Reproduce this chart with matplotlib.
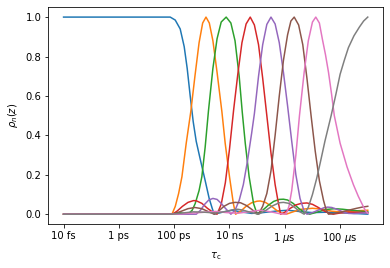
import matplotlib
matplotlib.use("Agg")
import matplotlib.pyplot as plt

# z = log10(tau_c / s)
z_blue = [-14.0, -10.144, -9.963, -9.783, -9.638, -9.53, -9.421, -9.313, -9.204, -9.06, -8.879, -8.735, -8.626, -8.554,
          -8.2, -7.9, -7.6, -7.2, -6.8, -6.3, -5.9, -5.5, -5.0, -4.5, -4.0, -3.5, -3.0]
rho_blue = [1.0, 1.0, 0.985, 0.94, 0.85, 0.74, 0.6, 0.47, 0.37, 0.28, 0.17, 0.08, 0.03, 0.0,
            0.012, 0.02, 0.012, 0.004, 0.008, 0.016, 0.02, 0.014, 0.008, 0.01, 0.008, 0.004, 0.0]

z_orange = [-14.0, -10.08, -9.96, -9.84, -9.72, -9.565, -9.4, -9.25, -9.1, -8.97, -8.85, -8.73, -8.6, -8.45, -8.275,
            -8.156, -8.0, -7.86, -7.78, -7.6, -7.4, -7.2, -7.0, -6.89, -6.7, -6.5, -6.3, -6.1, -5.95, -5.7, -5.4,
            -5.0, -4.6, -4.3, -4.0, -3.6, -3.3, -3.0]
rho_orange = [0, 0, 0.04, 0.105, 0.19, 0.36, 0.52, 0.70, 0.87, 0.97, 1.0, 0.97, 0.88, 0.72, 0.52,
              0.36, 0.19, 0.054, 0.0, 0.015, 0.04, 0.058, 0.066, 0.067, 0.06, 0.042, 0.02, 0.004, 0.0, 0.012, 0.025,
              0.03, 0.025, 0.015, 0.012, 0.015, 0.018, 0.02]

z_green = [-14.0, -10.1, -9.8, -9.5, -9.35, -9.24, -9.1, -9.0, -8.88, -8.76, -8.6, -8.45, -8.3, -8.12, -7.95, -7.8,
           -7.65, -7.54, -7.43, -7.29, -7.13, -7.0, -6.8, -6.6, -6.4, -6.2, -6.05, -5.9, -5.7, -5.5, -5.3, -5.1,
           -4.8, -4.5, -4.2, -3.9, -3.6, -3.3, -3.0]
rho_green = [0, 0, 0.008, 0.0, 0.02, 0.054, 0.12, 0.19, 0.34, 0.525, 0.74, 0.89, 0.975, 1.0, 0.97, 0.88,
             0.70, 0.52, 0.36, 0.19, 0.054, 0.0, 0.02, 0.045, 0.065, 0.075, 0.076, 0.072, 0.055, 0.03, 0.01, 0.0,
             0.012, 0.024, 0.028, 0.025, 0.02, 0.016, 0.012]

z_red = [-14.0, -10.07, -9.9, -9.7, -9.5, -9.3, -9.2, -9.0, -8.8, -8.6, -8.45, -8.3, -8.15, -8.0, -7.85, -7.7,
         -7.55, -7.4, -7.25, -7.1, -6.95, -6.8, -6.65, -6.5, -6.35, -6.25, -6.15, -6.0, -5.8, -5.6, -5.4, -5.2,
         -5.0, -4.8, -4.6, -4.4, -4.25, -4.0, -3.7, -3.4, -3.0]
rho_red = [0, 0, 0.015, 0.04, 0.06, 0.069, 0.068, 0.055, 0.03, 0.01, 0.0, 0.05, 0.16, 0.33, 0.53, 0.71,
           0.87, 0.965, 1.0, 0.96, 0.86, 0.69, 0.50, 0.31, 0.15, 0.07, 0.0, 0.01, 0.03, 0.047, 0.055, 0.057,
           0.05, 0.035, 0.018, 0.005, 0.0, 0.006, 0.01, 0.01, 0.008]

z_purple = [-14.0, -9.2, -9.05, -8.9, -8.75, -8.6, -8.45, -8.3, -8.15, -8.0, -7.95, -7.8, -7.65, -7.5, -7.35, -7.2,
            -7.1, -6.95, -6.8, -6.65, -6.5, -6.35, -6.2, -6.05, -5.9, -5.75, -5.6, -5.45, -5.3, -5.2, -5.0, -4.8,
            -4.6, -4.45, -4.3, -4.1, -3.9, -3.7, -3.5, -3.2, -3.0]
rho_purple = [0, 0, 0.02, 0.05, 0.072, 0.08, 0.075, 0.055, 0.03, 0.008, 0.0, 0.02, 0.07, 0.15, 0.27, 0.41,
              0.51, 0.70, 0.86, 0.963, 1.0, 0.965, 0.87, 0.72, 0.55, 0.37, 0.2, 0.08, 0.015, 0.0, 0.008, 0.02,
              0.032, 0.036, 0.034, 0.024, 0.012, 0.004, 0.003, 0.006, 0.008]

z_brown = [-14.0, -10.07, -9.8, -9.5, -9.25, -9.0, -8.75, -8.55, -8.4, -8.2, -8.0, -7.8, -7.6, -7.4, -7.2, -7.05,
           -6.95, -6.8, -6.65, -6.5, -6.35, -6.2, -6.05, -5.9, -5.78, -5.66, -5.5, -5.35, -5.2, -5.05, -4.9, -4.75,
           -4.6, -4.5, -4.42, -4.2, -4.0, -3.7, -3.4, -3.2, -3.0]
rho_brown = [0, 0, 0.012, 0.028, 0.034, 0.028, 0.012, 0.0, 0.015, 0.04, 0.055, 0.06, 0.058, 0.045, 0.025, 0.008,
             0.0, 0.04, 0.105, 0.22, 0.4, 0.6, 0.78, 0.91, 0.98, 1.0, 0.96, 0.86, 0.69, 0.5, 0.32, 0.17,
             0.07, 0.02, 0.0, 0.004, 0.01, 0.02, 0.03, 0.036, 0.04]

z_pink = [-14.0, -10.07, -9.5, -8.9, -8.5, -8.1, -7.7, -7.3, -6.9, -6.5, -6.2, -5.95, -5.85, -5.75, -5.6, -5.47,
          -5.3, -5.15, -5.0, -4.88, -4.75, -4.64, -4.53, -4.42, -4.31, -4.21, -4.0, -3.75, -3.52, -3.34, -3.2,
          -3.1, -3.0]
rho_pink = [0, 0, 0.004, 0.01, 0.014, 0.008, 0.005, 0.012, 0.02, 0.012, 0.003, 0.0, 0.04, 0.12, 0.3, 0.5,
            0.72, 0.88, 0.975, 1.0, 0.97, 0.887, 0.81, 0.72, 0.61, 0.5, 0.36, 0.24, 0.15, 0.09, 0.05,
            0.022, 0.005]

z_gray = [-14.0, -10.07, -9.7, -9.3, -8.9, -8.5, -8.2, -7.9, -7.7, -7.5, -7.2, -6.95, -6.7, -6.45, -6.2, -6.05,
          -5.85, -5.65, -5.45, -5.3, -5.15, -5.0, -4.85, -4.72, -4.55, -4.325, -4.15, -4.0, -3.85, -3.7, -3.5,
          -3.3, -3.15, -3.0]
rho_gray = [0, 0, 0.006, 0.012, 0.01, 0.006, 0.012, 0.022, 0.025, 0.02, 0.008, 0.0, 0.018, 0.042, 0.058, 0.06,
            0.055, 0.035, 0.012, 0.0, 0.035, 0.1, 0.18, 0.26, 0.37, 0.5, 0.61, 0.71, 0.78, 0.845, 0.905,
            0.95, 0.98, 1.0]

tick_z = [-14, -12, -10, -8, -6, -4]
tick_labels = ['10 fs', '1 ps', '100 ps', '10 ns', r'1 $\mu$s', r'100 $\mu$s']

# 390 x 268 px at 72 dpi
fig, ax = plt.subplots(figsize=(390 / 72, 268 / 72), dpi=72)
plt.subplots_adjust(left=0.124, right=0.982, top=0.973, bottom=0.164)

ax.plot(z_blue, rho_blue)
ax.plot(z_orange, rho_orange)
ax.plot(z_green, rho_green)
ax.plot(z_red, rho_red)
ax.plot(z_purple, rho_purple)
ax.plot(z_brown, rho_brown)
ax.plot(z_pink, rho_pink)
ax.plot(z_gray, rho_gray)

ax.set_xticks(tick_z)
ax.set_xticklabels(tick_labels)
ax.set_xlabel(r'$\tau_\mathrm{c}$', labelpad=5)
ax.set_ylabel(r'$\rho_n(z)$', labelpad=5)

fig.savefig('out.png', dpi=72)
